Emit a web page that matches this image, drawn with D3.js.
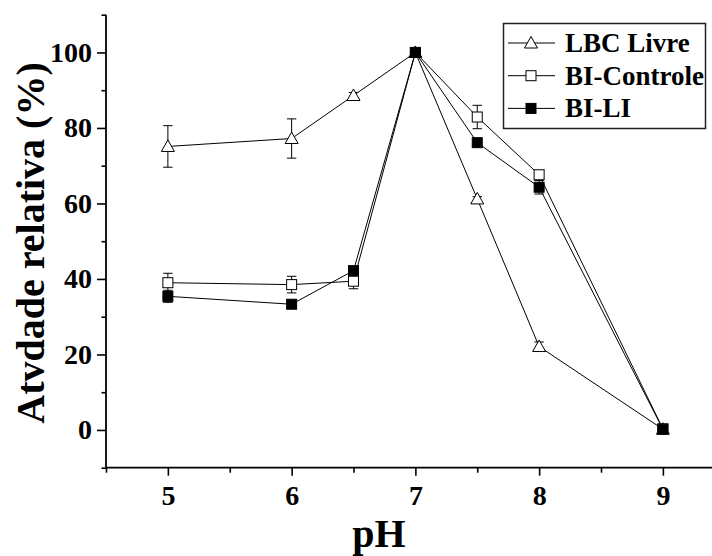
<!DOCTYPE html>
<html>
<head>
<meta charset="utf-8">
<script src="https://cdn.jsdelivr.net/npm/d3@7"></script>
<style>
  html, body { margin: 0; padding: 0; background: #fff; }
  svg { display: block; }
  text { font-family: "Liberation Serif", "Times New Roman", serif; font-weight: bold; fill: #000; }
</style>
</head>
<body>
<svg id="chart" width="712" height="556"></svg>
<script>
// ---- data ----
const pH = [5, 6, 6.5, 7, 7.5, 8, 9];
const seriesNames = ["LBC Livre", "BI-Controle", "BI-LI"];
const lbcLivre    = [75.1, 77.2, 88.6, 100, 61.2, 22.1, 0.2];
const lbcLivreErr = [5.5, 5.2, 0.8, 0.8, 0.6, 1.2, 0.8];
const biControle    = [39.0, 38.5, 39.4, 100, 82.9, 67.6, 0.3];
const biControleErr = [2.5, 2.2, 2.0, 0.8, 3.1, 1.0, 1.0];
const biLI    = [35.4, 33.3, 42.2, 100, 76.1, 64.3, 0.2];
const biLIErr = [1.6, 0.5, 1.0, 0.8, 0.5, 1.8, 0.8];
const xTicks = [5, 6, 7, 8, 9];
const yTicks = [0, 20, 40, 60, 80, 100];
const xLabel = "pH";
const yLabel = "Atvdade relativa (%)";

const series = [
  { name: seriesNames[0], values: lbcLivre, err: lbcLivreErr, marker: "triangle", fill: "#fff" },
  { name: seriesNames[1], values: biControle, err: biControleErr, marker: "square", fill: "#fff" },
  { name: seriesNames[2], values: biLI, err: biLIErr, marker: "square", fill: "#000" }
];

const FONT = '"Liberation Serif", "Times New Roman", serif';

// ---- layout ----
const svg = d3.select("#chart");
const x = d3.scaleLinear().domain([4.5, 9.5]).range([106, 724.75]);
const y = d3.scaleLinear().domain([-10, 110]).range([467.7, 14.7]);

const g = svg.append("g");

// axes
const xAxis = d3.axisBottom(x).tickValues(xTicks).tickSize(8).tickPadding(9).tickFormat(d3.format("d"));
const xMinor = d3.axisBottom(x).tickValues([4.5, 5.5, 6.5, 7.5, 8.5]).tickSize(5).tickFormat("");
const yAxis = d3.axisLeft(y).tickValues(yTicks).tickSize(9).tickPadding(5).tickFormat(d3.format("d"));
const yMinor = d3.axisLeft(y).tickValues([-10, 10, 30, 50, 70, 90, 110]).tickSize(4.5).tickFormat("");

function styleAxis(sel) {
  sel.attr("font-family", FONT);
  sel.select(".domain").remove();
  sel.selectAll("line").attr("stroke", "#000").attr("stroke-width", 1.6);
  sel.selectAll("text").style("font-family", FONT)
     .style("font-weight", "bold").attr("fill", "#000");
}

g.append("g").attr("transform", `translate(0,${y(-10)})`).call(xMinor).call(styleAxis);
g.append("g").attr("transform", `translate(0,${y(-10)})`).call(xAxis).call(styleAxis)
  .selectAll("text").style("font-size", "28px");
g.append("g").attr("transform", `translate(${x(4.5)},0)`).call(yMinor).call(styleAxis);
g.append("g").attr("transform", `translate(${x(4.5)},0)`).call(yAxis).call(styleAxis)
  .selectAll("text").style("font-size", "28px");

// axis lines
g.append("line").attr("x1", x(4.5)).attr("x2", 712).attr("y1", y(-10)).attr("y2", y(-10))
  .attr("stroke", "#000").attr("stroke-width", 1.8);
g.append("line").attr("x1", x(4.5)).attr("x2", x(4.5)).attr("y1", y(110)).attr("y2", y(-10))
  .attr("stroke", "#000").attr("stroke-width", 1.8);

// axis titles
svg.append("text").attr("x", 379).attr("y", 547).attr("text-anchor", "middle")
  .style("font-size", "40px").text(xLabel);
svg.append("text").attr("transform", "translate(44,243) rotate(-90)").attr("text-anchor", "middle")
  .style("font-size", "40px").text(yLabel);

// markers
const triPath = "M0,-6.5 L6.5,5 L-6.5,5 Z";
function drawMarker(sel, type, fill) {
  if (type === "triangle") {
    sel.append("path").attr("d", triPath).attr("fill", fill).attr("stroke", "#000").attr("stroke-width", 1);
  } else {
    sel.append("rect").attr("x", -5).attr("y", -5).attr("width", 10).attr("height", 10)
      .attr("fill", fill).attr("stroke", "#000").attr("stroke-width", 1);
  }
}

const line = d3.line().x(d => x(d.x)).y(d => y(d.y));

// lines
series.forEach(s => {
  const pts = pH.map((p, i) => ({ x: p, y: s.values[i] }));
  g.append("path").datum(pts).attr("d", line).attr("fill", "none")
    .attr("stroke", "#000").attr("stroke-width", 1);
});

// error bars
series.forEach(s => {
  pH.forEach((p, i) => {
    const cx = x(p), top = y(s.values[i] + s.err[i]), bot = y(s.values[i] - s.err[i]);
    const eg = g.append("g").attr("stroke", "#000").attr("stroke-width", 1);
    eg.append("line").attr("x1", cx).attr("x2", cx).attr("y1", top).attr("y2", bot);
    eg.append("line").attr("x1", cx - 4.7).attr("x2", cx + 4.7).attr("y1", top).attr("y2", top);
    eg.append("line").attr("x1", cx - 4.7).attr("x2", cx + 4.7).attr("y1", bot).attr("y2", bot);
  });
});

// points
series.forEach(s => {
  pH.forEach((p, i) => {
    const mg = g.append("g").attr("transform", `translate(${x(p)},${y(s.values[i])})`);
    drawMarker(mg, s.marker, s.fill);
  });
});

// legend
const lg = svg.append("g");
lg.append("rect").attr("x", 503.5).attr("y", 23.5).attr("width", 202).attr("height", 105)
  .attr("fill", "#fff").attr("stroke", "#222").attr("stroke-width", 1.5);
series.forEach((s, i) => {
  const cy = 43 + i * 32.7;
  lg.append("line").attr("x1", 508).attr("x2", 555).attr("y1", cy).attr("y2", cy)
    .attr("stroke", "#000").attr("stroke-width", 1);
  const mg = lg.append("g").attr("transform", `translate(531,${cy})`);
  drawMarker(mg, s.marker, s.fill);
  lg.append("text").attr("x", 565).attr("y", cy + 9).style("font-size", "27px").text(s.name);
});
</script>
</body>
</html>
